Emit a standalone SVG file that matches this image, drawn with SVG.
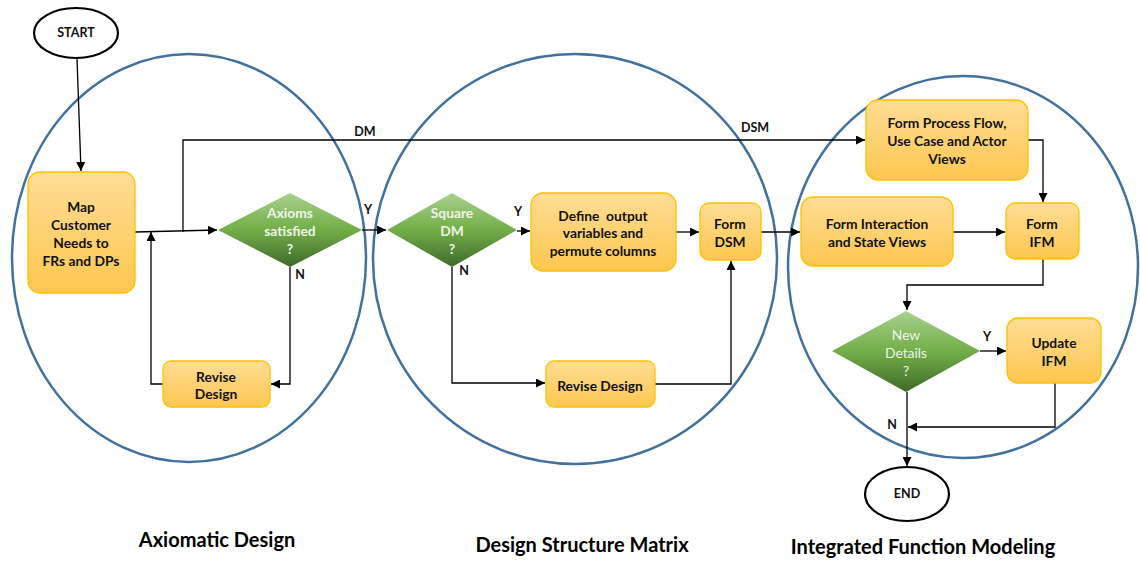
<svg xmlns="http://www.w3.org/2000/svg" width="1140" height="561" viewBox="0 0 1140 561">
  <defs>
    <linearGradient id="boxFill" x1="0" y1="0" x2="0" y2="1">
      <stop offset="0" stop-color="#ffdd95"/>
      <stop offset="1" stop-color="#fcc74f"/>
    </linearGradient>
    <linearGradient id="diaFill" x1="0" y1="0" x2="0" y2="1">
      <stop offset="0" stop-color="#a9d18e"/>
      <stop offset="0.5" stop-color="#72ae48"/>
      <stop offset="1" stop-color="#3f6a2a"/>
    </linearGradient>
    <marker id="arrow" viewBox="0 0 10 10" refX="10" refY="5" markerWidth="9" markerHeight="9" markerUnits="userSpaceOnUse" orient="auto">
      <path d="M0,0 L10,5 L0,10 z" fill="#000"/>
    </marker>
    <style>
      .zone { fill: none; stroke: #41719c; stroke-width: 2.5; }
      .term { fill: #fff; stroke: #000; stroke-width: 2.2; }
      .box { fill: url(#boxFill); stroke: #ffc000; stroke-width: 1.3; }
      .dia { fill: url(#diaFill); stroke: none; }
      .lbl { font-family: Lato, "Liberation Sans", sans-serif; font-weight: bold; font-size: 13.8px; fill: #111; text-anchor: middle; white-space: pre; }
      .dlbl { font-family: Lato, "Liberation Sans", sans-serif; font-weight: bold; font-size: 13.8px; fill: #eef5e6; text-anchor: middle; }
      .dlbl2 { font-family: Lato, "Liberation Sans", sans-serif; font-weight: normal; font-size: 13.8px; fill: #eef5e6; text-anchor: middle; }
      .tag { font-family: Lato, "Liberation Sans", sans-serif; font-weight: bold; font-size: 12.5px; fill: #111; text-anchor: middle; }
      .title { font-family: Lato, "Liberation Sans", sans-serif; font-weight: bold; font-size: 20px; fill: #000; text-anchor: middle; }
      .wire { fill: none; stroke: #000; stroke-width: 1.3; }
    </style>
  </defs>

  <!-- phase regions -->
  <g id="zones">
    <ellipse class="zone" cx="189" cy="258" rx="177" ry="204"/>
    <ellipse class="zone" cx="575" cy="259" rx="202" ry="205"/>
    <ellipse class="zone" cx="963" cy="267" rx="175" ry="191"/>
  </g>

  <!-- connectors -->
  <g id="connectors">
    <path class="wire" d="M77,59 L81,171" marker-end="url(#arrow)"/>
    <path class="wire" d="M135,232 L217,230" marker-end="url(#arrow)"/>
    <path class="wire" d="M183,232 L183,140 L865,140" marker-end="url(#arrow)"/>
    <path class="wire" d="M163,384 L151,384 L151,232" marker-end="url(#arrow)"/>
    <path class="wire" d="M290,267 L290,384 L271,384" marker-end="url(#arrow)"/>
    <path class="wire" d="M362,230 L386,230" marker-end="url(#arrow)"/>
    <path class="wire" d="M517,231 L530,231" marker-end="url(#arrow)"/>
    <path class="wire" d="M452,267 L452,383 L545,383" marker-end="url(#arrow)"/>
    <path class="wire" d="M676,232 L699,232" marker-end="url(#arrow)"/>
    <path class="wire" d="M655,384 L731,384 L731,261" marker-end="url(#arrow)"/>
    <path class="wire" d="M761,232 L800,232" marker-end="url(#arrow)"/>
    <path class="wire" d="M1028,140 L1043,140 L1043,202" marker-end="url(#arrow)"/>
    <path class="wire" d="M953,232 L1005,232" marker-end="url(#arrow)"/>
    <path class="wire" d="M1043,259 L1043,285 L907,285 L907,310" marker-end="url(#arrow)"/>
    <path class="wire" d="M980,351 L1006,351" marker-end="url(#arrow)"/>
    <path class="wire" d="M1055,383 L1055,427 L908,427" marker-end="url(#arrow)"/>
    <path class="wire" d="M907,392 L907,466" marker-end="url(#arrow)"/>

    <text class="tag" x="365" y="136">DM</text>
    <text class="tag" x="755" y="132">DSM</text>
    <text class="tag" x="368" y="214">Y</text>
    <text class="tag" x="300" y="279">N</text>
    <text class="tag" x="518" y="216">Y</text>
    <text class="tag" x="464" y="275">N</text>
    <text class="tag" x="987" y="341">Y</text>
    <text class="tag" x="892" y="429">N</text>
  </g>

  <g id="start">
    <ellipse class="term" cx="76" cy="33" rx="42" ry="25"/>
    <text class="tag" x="76" y="37">START</text>
  </g>

  <g id="map-needs">
    <rect class="box" x="28" y="172" width="107" height="121" rx="12"/>
    <text class="lbl" x="81" y="212">Map</text>
    <text class="lbl" x="81" y="230">Customer</text>
    <text class="lbl" x="81" y="248">Needs to</text>
    <text class="lbl" x="81" y="266">FRs and DPs</text>
  </g>

  <g id="axioms">
    <polygon class="dia" points="218,230 290,193 362,230 290,267"/>
    <text class="dlbl" x="290" y="218">Axioms</text>
    <text class="dlbl" x="290" y="236">satisfied</text>
    <text class="dlbl" x="290" y="254">?</text>
  </g>

  <g id="revise-ad">
    <rect class="box" x="163" y="361" width="107" height="46" rx="8"/>
    <text class="lbl" x="216" y="382">Revise</text>
    <text class="lbl" x="216" y="399">Design</text>
  </g>

  <g id="square-dm">
    <polygon class="dia" points="387,230 452,193 517,230 452,267"/>
    <text class="dlbl" x="452" y="218">Square</text>
    <text class="dlbl" x="452" y="236">DM</text>
    <text class="dlbl" x="452" y="254">?</text>
  </g>

  <g id="define-output">
    <rect class="box" x="531" y="193" width="145" height="78" rx="12"/>
    <text class="lbl" x="603" y="221" xml:space="preserve">Define  output</text>
    <text class="lbl" x="603" y="238">variables and</text>
    <text class="lbl" x="603" y="256">permute columns</text>
  </g>

  <g id="form-dsm">
    <rect class="box" x="700" y="203" width="61" height="57" rx="9"/>
    <text class="lbl" x="730" y="229">Form</text>
    <text class="lbl" x="730" y="247">DSM</text>
  </g>

  <g id="revise-dsm">
    <rect class="box" x="546" y="361" width="109" height="46" rx="8"/>
    <text class="lbl" x="600" y="391">Revise Design</text>
  </g>

  <g id="form-process">
    <rect class="box" x="866" y="100" width="162" height="80" rx="12"/>
    <text class="lbl" x="947" y="128">Form Process Flow,</text>
    <text class="lbl" x="947" y="146">Use Case and Actor</text>
    <text class="lbl" x="947" y="164">Views</text>
  </g>

  <g id="form-interaction">
    <rect class="box" x="801" y="197" width="152" height="69" rx="12"/>
    <text class="lbl" x="877" y="229">Form Interaction</text>
    <text class="lbl" x="877" y="247">and State Views</text>
  </g>

  <g id="form-ifm">
    <rect class="box" x="1006" y="203" width="73" height="56" rx="9"/>
    <text class="lbl" x="1042" y="229">Form</text>
    <text class="lbl" x="1042" y="247">IFM</text>
  </g>

  <g id="new-details">
    <polygon class="dia" points="832,351 906,311 980,351 906,392"/>
    <text class="dlbl2" x="906" y="340">New</text>
    <text class="dlbl2" x="906" y="358">Details</text>
    <text class="dlbl2" x="906" y="376">?</text>
  </g>

  <g id="update-ifm">
    <rect class="box" x="1007" y="318" width="94" height="65" rx="11"/>
    <text class="lbl" x="1054" y="348">Update</text>
    <text class="lbl" x="1054" y="366">IFM</text>
  </g>

  <g id="end">
    <ellipse class="term" cx="907" cy="494" rx="42" ry="27"/>
    <text class="tag" x="907" y="498">END</text>
  </g>

  <g id="titles">
    <text class="title" x="217" y="547">Axiomatic Design</text>
    <text class="title" x="582" y="552">Design Structure Matrix</text>
    <text class="title" x="923" y="554">Integrated Function Modeling</text>
  </g>
</svg>
